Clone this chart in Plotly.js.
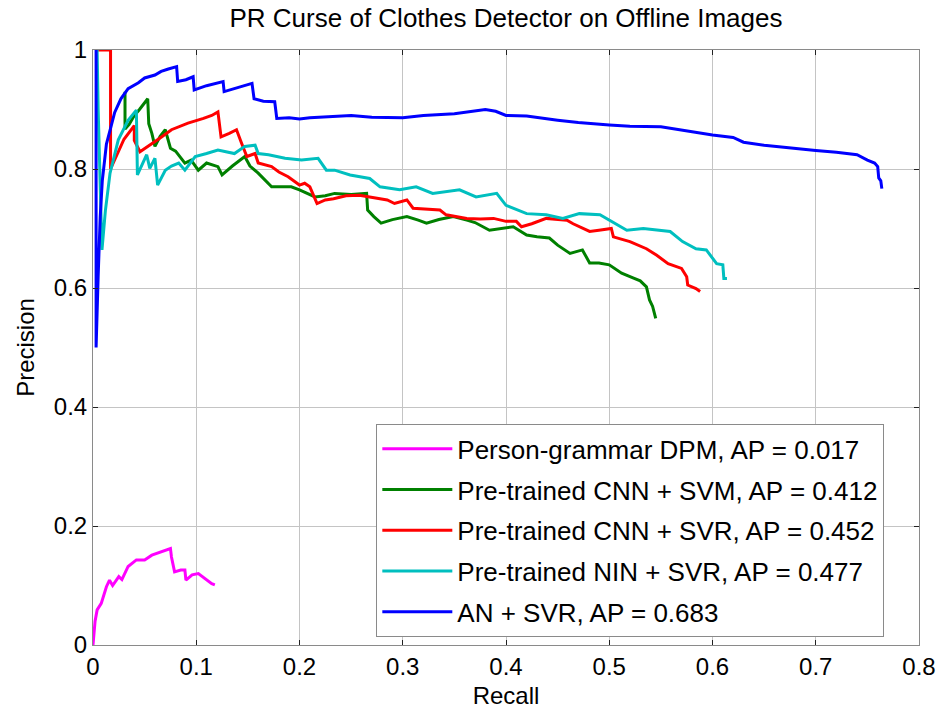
<!DOCTYPE html>
<html>
<head>
<meta charset="utf-8">
<script src="https://cdn.plot.ly/plotly-3.0.1.min.js"></script>
<style>
  html, body { margin: 0; padding: 0; background: #fff; }
  #chart { width: 951px; height: 719px; }
</style>
</head>
<body>
<div id="chart"></div>
<script>
// PR curves (recall, precision)
var dpmRecall = [0, 0.002, 0.004, 0.008, 0.013, 0.016, 0.019, 0.025, 0.028, 0.034, 0.042, 0.05, 0.057, 0.062, 0.07, 0.075, 0.076, 0.079, 0.085, 0.089, 0.09, 0.096, 0.102, 0.108, 0.115, 0.118];
var dpmPrec = [0, 0.04, 0.059, 0.07, 0.098, 0.109, 0.1, 0.115, 0.11, 0.132, 0.143, 0.143, 0.151, 0.154, 0.16, 0.162, 0.148, 0.123, 0.126, 0.126, 0.109, 0.118, 0.12, 0.112, 0.103, 0.101];

var cnnSvmRecall = [0.031, 0.031, 0.035, 0.04, 0.045, 0.05, 0.053, 0.054, 0.057, 0.06, 0.065, 0.07, 0.075, 0.08, 0.089, 0.095, 0.102, 0.11, 0.121, 0.125, 0.135, 0.147, 0.152, 0.16, 0.173, 0.192, 0.2, 0.215, 0.225, 0.234, 0.25, 0.265, 0.266, 0.272, 0.279, 0.29, 0.304, 0.315, 0.323, 0.335, 0.349, 0.362, 0.37, 0.384, 0.395, 0.407, 0.42, 0.43, 0.442, 0.45, 0.462, 0.474, 0.481, 0.49, 0.5, 0.512, 0.523, 0.53, 0.536, 0.539, 0.542, 0.545];
var cnnSvmPrec = [0.93, 0.867, 0.875, 0.89, 0.9, 0.912, 0.918, 0.876, 0.86, 0.838, 0.855, 0.866, 0.835, 0.83, 0.81, 0.815, 0.798, 0.81, 0.804, 0.79, 0.805, 0.821, 0.805, 0.793, 0.77, 0.77, 0.765, 0.753, 0.755, 0.759, 0.757, 0.759, 0.731, 0.72, 0.709, 0.715, 0.72, 0.714, 0.709, 0.715, 0.72, 0.714, 0.71, 0.697, 0.7, 0.703, 0.689, 0.686, 0.684, 0.672, 0.658, 0.664, 0.642, 0.642, 0.639, 0.625, 0.617, 0.612, 0.602, 0.58, 0.569, 0.549];

var cnnSvrRecall = [0.003, 0.017, 0.017, 0.022, 0.03, 0.04, 0.04, 0.0455, 0.055, 0.065, 0.076, 0.092, 0.107, 0.115, 0.121, 0.124, 0.132, 0.139, 0.144, 0.149, 0.157, 0.16, 0.173, 0.18, 0.189, 0.2, 0.205, 0.21, 0.217, 0.225, 0.233, 0.245, 0.258, 0.27, 0.285, 0.292, 0.304, 0.31, 0.322, 0.336, 0.342, 0.362, 0.375, 0.388, 0.4, 0.41, 0.415, 0.425, 0.439, 0.45, 0.459, 0.465, 0.481, 0.49, 0.502, 0.504, 0.52, 0.536, 0.546, 0.557, 0.57, 0.575, 0.576, 0.584, 0.588];
var cnnSvrPrec = [1, 1, 0.8, 0.82, 0.85, 0.873, 0.848, 0.829, 0.84, 0.852, 0.866, 0.877, 0.885, 0.89, 0.896, 0.854, 0.86, 0.866, 0.843, 0.821, 0.826, 0.81, 0.804, 0.795, 0.787, 0.773, 0.776, 0.77, 0.742, 0.748, 0.75, 0.755, 0.756, 0.752, 0.748, 0.742, 0.748, 0.734, 0.733, 0.731, 0.723, 0.717, 0.716, 0.717, 0.712, 0.712, 0.703, 0.708, 0.717, 0.716, 0.714, 0.708, 0.695, 0.697, 0.7, 0.686, 0.678, 0.666, 0.655, 0.641, 0.633, 0.619, 0.605, 0.599, 0.594];

var ninSvrRecall = [0.004, 0.005, 0.0087, 0.012, 0.0165, 0.0245, 0.034, 0.042, 0.043, 0.048, 0.052, 0.055, 0.06, 0.0626, 0.07, 0.076, 0.083, 0.089, 0.099, 0.11, 0.121, 0.137, 0.147, 0.157, 0.16, 0.17, 0.186, 0.202, 0.218, 0.226, 0.234, 0.249, 0.268, 0.278, 0.297, 0.313, 0.329, 0.355, 0.371, 0.391, 0.4, 0.42, 0.439, 0.455, 0.471, 0.491, 0.5, 0.517, 0.533, 0.559, 0.571, 0.584, 0.594, 0.604, 0.61, 0.611, 0.614];
var ninSvrPrec = [1, 0.9, 0.664, 0.73, 0.793, 0.849, 0.882, 0.899, 0.79, 0.81, 0.824, 0.801, 0.818, 0.773, 0.798, 0.805, 0.81, 0.798, 0.821, 0.826, 0.832, 0.826, 0.838, 0.84, 0.826, 0.824, 0.818, 0.815, 0.818, 0.798, 0.798, 0.79, 0.784, 0.77, 0.765, 0.77, 0.759, 0.765, 0.753, 0.759, 0.739, 0.725, 0.723, 0.717, 0.725, 0.723, 0.714, 0.697, 0.7, 0.695, 0.678, 0.666, 0.664, 0.641, 0.639, 0.616, 0.616];

var anSvrRecall = [0.003, 0.003, 0.005, 0.007, 0.009, 0.013, 0.018, 0.021, 0.027, 0.034, 0.044, 0.05, 0.06, 0.066, 0.073, 0.079, 0.081, 0.082, 0.09, 0.097, 0.098, 0.11, 0.126, 0.127, 0.14, 0.154, 0.156, 0.165, 0.176, 0.178, 0.19, 0.2, 0.21, 0.234, 0.25, 0.27, 0.3, 0.32, 0.35, 0.38, 0.39, 0.4, 0.42, 0.45, 0.47, 0.5, 0.52, 0.55, 0.57, 0.6, 0.62, 0.63, 0.65, 0.67, 0.7, 0.72, 0.74, 0.75, 0.757, 0.76, 0.761, 0.763, 0.764];
var anSvrPrec = [1, 0.5, 0.62, 0.72, 0.78, 0.842, 0.875, 0.895, 0.918, 0.935, 0.945, 0.953, 0.958, 0.964, 0.968, 0.972, 0.972, 0.947, 0.95, 0.955, 0.933, 0.94, 0.947, 0.93, 0.937, 0.944, 0.918, 0.914, 0.913, 0.885, 0.886, 0.884, 0.886, 0.888, 0.89, 0.887, 0.886, 0.89, 0.893, 0.9, 0.897, 0.89, 0.889, 0.882, 0.878, 0.874, 0.872, 0.871, 0.865, 0.857, 0.853, 0.845, 0.84, 0.836, 0.831, 0.828, 0.824, 0.815, 0.81, 0.804, 0.785, 0.78, 0.767];

var seriesNames = [
  "Person-grammar DPM, AP = 0.017",
  "Pre-trained CNN + SVM, AP = 0.412",
  "Pre-trained CNN + SVR, AP = 0.452",
  "Pre-trained NIN + SVR, AP = 0.477",
  "AN + SVR, AP = 0.683"
];
var seriesColors = ["#ff00ff", "#008000", "#ff0000", "#00bfbf", "#0000ff"];
var xs = [dpmRecall, cnnSvmRecall, cnnSvrRecall, ninSvrRecall, anSvrRecall];
var ys = [dpmPrec, cnnSvmPrec, cnnSvrPrec, ninSvrPrec, anSvrPrec];

var xTicks = [0, 0.1, 0.2, 0.3, 0.4, 0.5, 0.6, 0.7, 0.8];
var xTickText = ["0", "0.1", "0.2", "0.3", "0.4", "0.5", "0.6", "0.7", "0.8"];
var yTicks = [0, 0.2, 0.4, 0.6, 0.8, 1];
var yTickText = ["0", "0.2", "0.4", "0.6", "0.8", "1"];

var font = "Liberation Sans, Arial, sans-serif";

var traces = [];
for (var i = 0; i < xs.length; i++) {
  traces.push({
    x: xs[i],
    y: ys[i],
    type: "scatter",
    mode: "lines",
    name: seriesNames[i],
    legendgroup: "g" + i,
    line: { color: seriesColors[i], width: 3 },
  });
}

var axisCommon = {
  showline: true,
  linecolor: "#8a8a8a",
  linewidth: 1,
  mirror: "ticks",
  ticks: "inside",
  ticklen: 5,
  tickcolor: "#222",
  showgrid: true,
  gridcolor: "#c4c4c4",
  gridwidth: 1,
  zeroline: false,
  tickfont: { family: font, size: 24, color: "#000" },
};

var layout = {
  width: 951,
  height: 719,
  margin: { l: 93, r: 32, t: 50, b: 74 },
  paper_bgcolor: "#fff",
  plot_bgcolor: "#fff",
  font: { family: font, color: "#000" },
  title: {
    text: "PR Curse of Clothes Detector on Offline Images",
    font: { family: font, size: 26, color: "#000" },
    x: 0.5,
    xref: "paper",
    y: 0.975,
    yref: "container",
    yanchor: "middle",
  },
  xaxis: Object.assign({}, axisCommon, {
    range: [0, 0.8],
    tickvals: xTicks,
    ticktext: xTickText,
    title: { text: "Recall", font: { family: font, size: 24, color: "#000" }, standoff: 8 },
  }),
  yaxis: Object.assign({}, axisCommon, {
    range: [0, 1],
    tickvals: yTicks,
    ticktext: yTickText,
    title: { text: "Precision", font: { family: font, size: 24, color: "#000" }, standoff: 12 },
  }),
  showlegend: true,
  legend: {
    x: 0.343,
    y: 0.371,
    xanchor: "left",
    yanchor: "top",
    bgcolor: "#fff",
    bordercolor: "#8a8a8a",
    borderwidth: 1,
    font: { family: font, size: 26, color: "#000" },
    traceorder: "grouped",
    tracegroupgap: 4,
    itemwidth: 70,
  },
};

Plotly.newPlot("chart", traces, layout, { displayModeBar: false, staticPlot: true });
</script>
</body>
</html>
